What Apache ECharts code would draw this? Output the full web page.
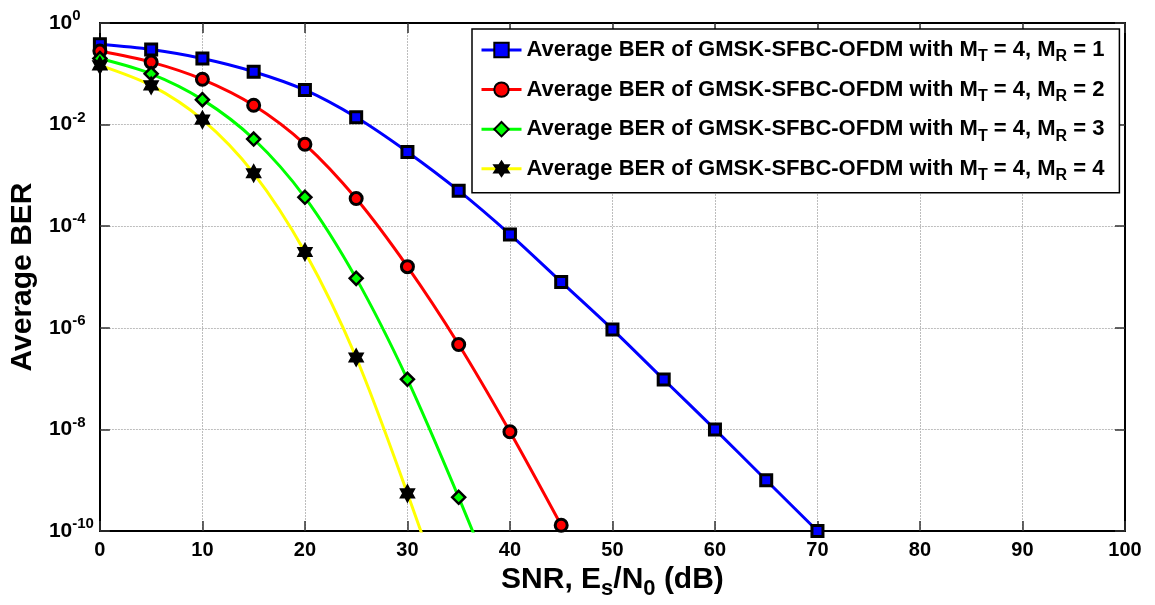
<!DOCTYPE html>
<html>
<head>
<meta charset="utf-8">
<script src="https://cdn.jsdelivr.net/npm/echarts@6/dist/echarts.min.js"></script>
<style>html,body{margin:0;padding:0;background:#fff;}#c{width:1155px;height:605px;}</style>
</head>
<body>
<div id="c"></div>
<script>
var snr = [0, 5, 10, 15, 20, 25, 30, 35, 40, 45, 50, 55, 60, 65, 70];
var berMR1 = [0.38, 0.30, 0.20, 0.11, 0.048, 0.0139, 0.0029, 5.0e-4, 6.9e-5, 8.0e-6, 9.3e-7, 9.6e-8, 1.0e-8, 1.0e-9, 1.0e-10];
var berMR2 = [0.28, 0.17, 0.078, 0.024, 0.0041, 3.5e-4, 1.6e-5, 4.7e-7, 9.0e-9, 1.3e-10];
var berMR3 = [0.20, 0.10, 0.031, 0.0052, 3.7e-4, 9.4e-6, 9.7e-8, 4.6e-10, 1.5e-12];
var berMR4 = [0.147, 0.059, 0.0125, 0.0011, 3.1e-5, 2.6e-7, 5.5e-10, 7e-13];
var seriesNames = [
  'Average BER of GMSK-SFBC-OFDM with M_T = 4, M_R = 1',
  'Average BER of GMSK-SFBC-OFDM with M_T = 4, M_R = 2',
  'Average BER of GMSK-SFBC-OFDM with M_T = 4, M_R = 3',
  'Average BER of GMSK-SFBC-OFDM with M_T = 4, M_R = 4'
];
var xTicks = [0, 10, 20, 30, 40, 50, 60, 70, 80, 90, 100];
var yTickExponents = [-10, -8, -6, -4, -2, 0];

var hexagram = 'path://M50 0 L64.43 25 L93.3 25 L78.87 50 L93.3 75 L64.43 75 L50 100 L35.57 75 L6.7 75 L21.13 50 L6.7 25 L35.57 25 Z';

function pairs(ys) { return ys.map(function (v, i) { return [snr[i], v]; }); }

var FONT = '"Liberation Sans", Arial, sans-serif';
var chart = echarts.init(document.getElementById('c'), null, {renderer: 'canvas'});

function mkSeries(name, data, lineColor, fillColor, symbol, size, bw) {
  return {
    name: name, type: 'line', data: pairs(data), xAxisIndex: 0, yAxisIndex: 0,
    smooth: 0.3, clip: true,
    lineStyle: {color: lineColor, width: 3},
    itemStyle: {color: fillColor, borderColor: '#000', borderWidth: bw},
    symbol: symbol, symbolSize: size, showAllSymbol: true,
    emphasis: {disabled: true}, animation: false
  };
}

var option = {
  animation: false,
  backgroundColor: '#fff',
  textStyle: {fontFamily: FONT},
  grid: {left: 98, right: 30, top: 23, bottom: 74, show: false},
  legend: {
    orient: 'vertical', left: 472, top: 29,
    backgroundColor: '#fff', borderColor: '#000', borderWidth: 1.5,
    padding: [10, 15, 9, 8], itemGap: 13.6, itemWidth: 40, itemHeight: 18,
    lineStyle: {width: 3},
    data: seriesNames,
    formatter: function (n) {
      var m = n.match(/^(.*M)_T( = 4, M)_R( = \d)$/);
      return '{t|' + m[1] + '}{sub|T}{t|' + m[2] + '}{sub|R}{t|' + m[3] + '}';
    },
    textStyle: {
      fontFamily: FONT, fontWeight: 'bold', fontSize: 22, color: '#000',
      rich: {
        t: {fontFamily: FONT, fontWeight: 'bold', fontSize: 22, color: '#000'},
        sub: {fontFamily: FONT, fontWeight: 'bold', fontSize: 16, color: '#000', padding: [14, 0, 0, 0]}
      }
    }
  },
  xAxis: [{
    type: 'value', min: 0, max: 100, interval: 10, position: 'bottom',
    name: '{n|SNR, E}{sub|s}{n|/N}{sub|0}{n| (dB)}', nameLocation: 'middle', nameGap: 26,
    nameTextStyle: {rich: {
      n: {fontFamily: FONT, fontWeight: 'bold', fontSize: 30, color: '#000'},
      sub: {fontFamily: FONT, fontWeight: 'bold', fontSize: 22, color: '#000', padding: [18, 0, 0, 0]}
    }},
    axisLine: {show: true, onZero: false, lineStyle: {color: '#000', width: 2}},
    axisTick: {show: true, inside: true, length: 10, lineStyle: {color: '#333', width: 1.5}},
    axisLabel: {margin: 9, fontFamily: FONT, fontWeight: 'bold', fontSize: 20, color: '#000',
      formatter: function (v) { return xTicks.indexOf(v) >= 0 ? String(v) : ''; }},
    splitLine: {show: true, lineStyle: {color: '#bdbdbd', width: 1, type: [2, 1]}}
  }, {
    type: 'value', min: 0, max: 100, interval: 10, position: 'top',
    axisLine: {show: true, onZero: false, lineStyle: {color: '#000', width: 2}},
    axisTick: {show: true, inside: true, length: 10, lineStyle: {color: '#333', width: 1.5}},
    axisLabel: {show: false}, splitLine: {show: false}
  }],
  yAxis: [{
    type: 'log', logBase: 10, min: 1e-10, max: 1, interval: 2, position: 'left',
    name: 'Average BER', nameLocation: 'middle', nameGap: 61,
    nameTextStyle: {fontFamily: FONT, fontWeight: 'bold', fontSize: 30, color: '#000'},
    axisLine: {show: true, onZero: false, lineStyle: {color: '#000', width: 2}},
    axisTick: {show: true, inside: true, length: 10, lineStyle: {color: '#333', width: 1.5}},
    minorTick: {show: false},
    axisLabel: {
      margin: 51, align: 'left',
      formatter: function (v) {
        var e = Math.round(Math.log(v) / Math.LN10);
        return yTickExponents.indexOf(e) >= 0 ? '{b|10}{s|' + e + '}' : '';
      },
      rich: {
        b: {fontFamily: FONT, fontWeight: 'bold', fontSize: 21, color: '#000'},
        s: {fontFamily: FONT, fontWeight: 'bold', fontSize: 15, color: '#000', padding: [0, 0, 14, 0]}
      }
    },
    splitLine: {show: true, lineStyle: {color: '#bdbdbd', width: 1, type: [2, 1]}}
  }, {
    type: 'log', logBase: 10, min: 1e-10, max: 1, interval: 2, position: 'right',
    axisLine: {show: true, onZero: false, lineStyle: {color: '#000', width: 2}},
    axisTick: {show: true, inside: true, length: 10, lineStyle: {color: '#333', width: 1.5}},
    axisLabel: {show: false}, splitLine: {show: false}
  }],
  series: [
    mkSeries(seriesNames[0], berMR1, '#0000ff', '#0000ff', 'rect', 11, 3),
    mkSeries(seriesNames[1], berMR2, '#ff0000', '#ff0000', 'circle', 12, 3),
    mkSeries(seriesNames[2], berMR3, '#00ff00', '#00ff00', 'diamond', 13, 2.5),
    mkSeries(seriesNames[3], berMR4, '#ffff00', '#000000', hexagram, [14, 17], 1.5)
  ]
};
chart.setOption(option);
</script>
</body>
</html>
